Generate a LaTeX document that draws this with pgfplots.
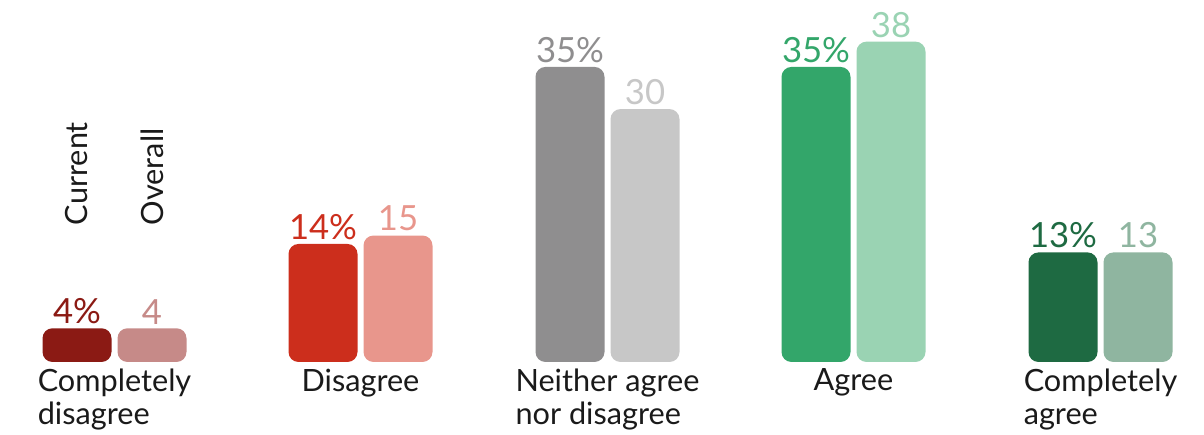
\documentclass[border=0pt]{standalone}
\usepackage{fontspec}
\setmainfont{Lato}
\usepackage{pgfplots}
\pgfplotsset{compat=1.18}
\definecolor{cdA}{HTML}{8B1A14}
\definecolor{cdB}{HTML}{C68A88}
\definecolor{dA}{HTML}{CC2E1C}
\definecolor{dB}{HTML}{E8968C}
\definecolor{nA}{HTML}{8F8E8F}
\definecolor{nB}{HTML}{C7C7C7}
\definecolor{aA}{HTML}{33A66A}
\definecolor{aB}{HTML}{9AD3B3}
\definecolor{caA}{HTML}{1E6A42}
\definecolor{caB}{HTML}{8FB5A0}
\definecolor{txt}{HTML}{1A1A1A}
\begin{document}
\begin{tikzpicture}
\begin{axis}[
  width=903pt, height=326.25pt, scale only axis,
  xmin=0, xmax=1204, ymin=-8.66, ymax=42.94,
  hide axis, clip=false,
  ybar, bar width=69, bar shift=0,
  point meta=explicit symbolic,
  nodes near coords=\pgfplotspointmeta,
  every node near coord/.style={anchor=south, inner sep=0pt, yshift=3pt, font=\fontsize{26}{28}\selectfont},
  every axis plot/.append style={draw=none, rounded corners=7.5pt},
]
\path (rel axis cs:0,0) rectangle (rel axis cs:1,1);
\addplot[fill=cdA, every node near coord/.append style={text=cdA}] coordinates {(77,4) [4\%]};
\addplot[fill=cdB, every node near coord/.append style={text=cdB}] coordinates {(152,4) [4]};
\addplot[fill=dA, every node near coord/.append style={text=dA}] coordinates {(323,14) [14\%]};
\addplot[fill=dB, every node near coord/.append style={text=dB}] coordinates {(398,15) [15]};
\addplot[fill=nA, every node near coord/.append style={text=nA}] coordinates {(570,35) [35\%]};
\addplot[fill=nB, every node near coord/.append style={text=nB}] coordinates {(645,30) [30]};
\addplot[fill=aA, every node near coord/.append style={text=aA}] coordinates {(816,35) [35\%]};
\addplot[fill=aB, every node near coord/.append style={text=aB}] coordinates {(891,38) [38]};
\addplot[fill=caA, every node near coord/.append style={text=caA}] coordinates {(1063,13) [13\%]};
\addplot[fill=caB, every node near coord/.append style={text=caB}] coordinates {(1138,13) [13]};
\begin{scope}[every node/.style={text=txt, font=\fontsize{23}{25}\selectfont}]
\node[rotate=90, anchor=west, inner sep=0pt] at (axis cs:77,16.2) {Current};
\node[rotate=90, anchor=west, inner sep=0pt] at (axis cs:152,16.2) {Overall};
\node[anchor=north, align=left, inner sep=0pt] at (axis cs:114.5,-0.8) {Completely\\disagree};
\node[anchor=north, align=left, inner sep=0pt] at (axis cs:360.5,-0.8) {Disagree};
\node[anchor=north, align=left, inner sep=0pt] at (axis cs:607.5,-0.8) {Neither agree\\nor disagree};
\node[anchor=north, align=left, inner sep=0pt] at (axis cs:853.5,-0.8) {Agree};
\node[anchor=north, align=left, inner sep=0pt] at (axis cs:1100.5,-0.8) {Completely\\agree};
\end{scope}
\end{axis}
\end{tikzpicture}
\end{document}
